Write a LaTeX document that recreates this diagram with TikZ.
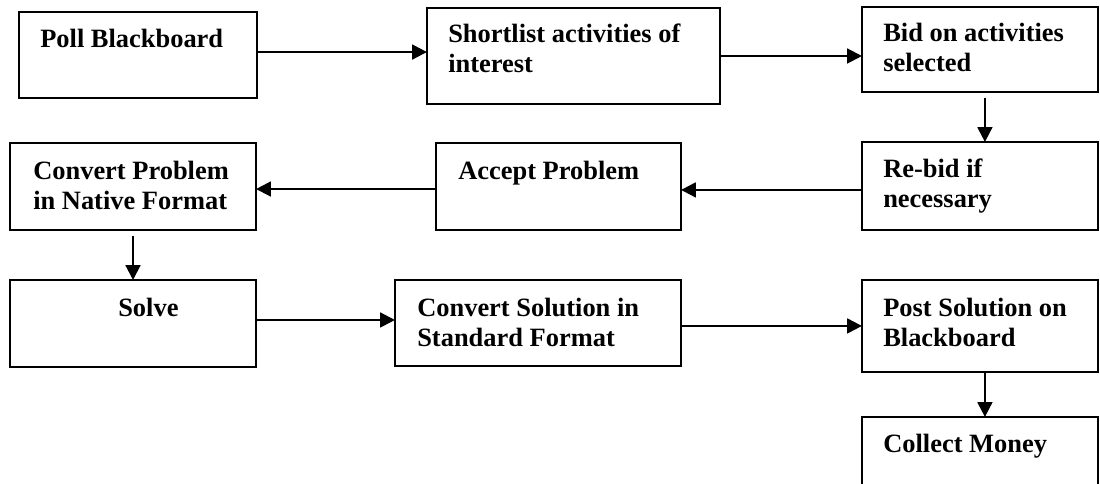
\documentclass[tikz,border=0pt]{standalone}
\usepackage{fontspec}
\setmainfont{Liberation Serif}
\usetikzlibrary{arrows.meta}

\tikzset{
    box/.style={draw, rectangle, line width=1.9pt, inner sep=0pt, outer sep=0pt},
    txt/.style={anchor=base west, align=left, inner sep=0pt, font=\bfseries\fontsize{18.8}{21.7}\selectfont},
    flow/.style={-{Triangle[length=10.5pt,width=10.5pt]}, line width=1.5pt},
}

\begin{document}
\begin{tikzpicture}[x=0.025cm, y=-0.025cm]
    \clip (0,0) rectangle (1100,484);

    % boxes
    \node[box, minimum width=5.95cm, minimum height=2.15cm] (poll) at (138,55) {};
    \node[box, minimum width=7.325cm, minimum height=2.4cm] (short) at (573.5,56) {};
    \node[box, minimum width=5.9cm, minimum height=2.125cm] (bid) at (980,49.5) {};
    \node[box, minimum width=6.15cm, minimum height=2.175cm] (conv) at (133,186.5) {};
    \node[box, minimum width=6.125cm, minimum height=2.175cm] (accept) at (558.5,186.5) {};
    \node[box, minimum width=5.9cm, minimum height=2.2cm] (rebid) at (980,186) {};
    \node[box, minimum width=6.15cm, minimum height=2.175cm] (solve) at (133,323.5) {};
    \node[box, minimum width=7.15cm, minimum height=2.15cm] (convsol) at (538,323) {};
    \node[box, minimum width=5.9cm, minimum height=2.3cm] (post) at (980,326) {};
    \node[box, minimum width=5.9cm, minimum height=2.15cm] (collect) at (980,460) {};

    % texts (base of the last line)
    \node[txt] (poll-t) at (40,48) {Poll Blackboard};
    \node[txt] (short-t) at (448,73) {Shortlist activities of\\interest};
    \node[txt] (bid-t) at (883,72) {Bid on activities\\selected};
    \node[txt] (conv-t) at (33,210) {Convert Problem\\in Native Format};
    \node[txt] (accept-t) at (458,180) {Accept Problem};
    \node[txt] (rebid-t) at (883,208) {Re-bid if\\necessary};
    \node[txt] (solve-t) at (118,317) {Solve};
    \node[txt] (convsol-t) at (417,347) {Convert Solution in\\Standard Format};
    \node[txt] (post-t) at (883,347) {Post Solution on\\Blackboard};
    \node[txt] (collect-t) at (883,453) {Collect Money};

    % arrows
    \draw[flow] ([yshift=2.1pt]poll.east) -- ([yshift=2.1pt]poll.east -| short.west);
    \draw[flow] (short.east) -- (short.east -| bid.west);
    \draw[flow, shorten <=4pt] ([xshift=3.5pt]bid.south) -- ([xshift=3.5pt]rebid.north);
    \draw[flow] ([yshift=-2.8pt]rebid.west) -- ([yshift=-2.8pt]rebid.west -| accept.east);
    \draw[flow] ([yshift=-1.8pt]accept.west) -- ([yshift=-1.8pt]accept.west -| conv.east);
    \draw[flow, shorten <=4pt] (conv.south) -- (solve.north);
    \draw[flow] ([yshift=2.5pt]solve.east) -- ([yshift=2.5pt]solve.east -| convsol.west);
    \draw[flow] ([yshift=-2.1pt]convsol.east) -- ([yshift=-2.1pt]convsol.east -| post.west);
    \draw[flow] ([xshift=3.5pt]post.south) -- ([xshift=3.5pt]collect.north);
\end{tikzpicture}
\end{document}
